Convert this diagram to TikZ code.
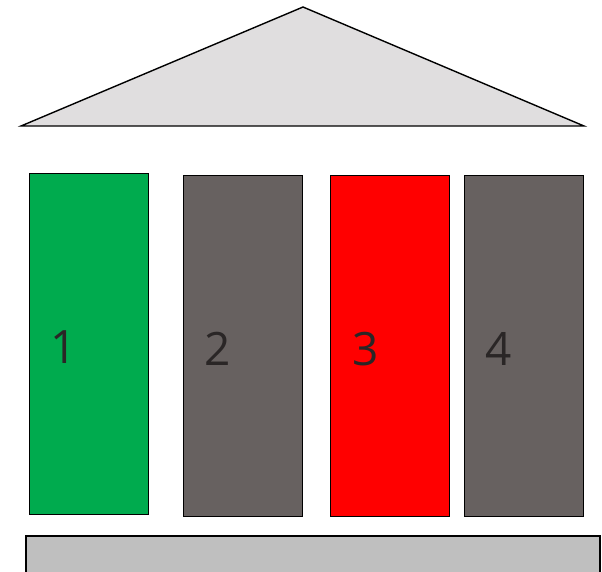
\documentclass[tikz,border=0pt]{standalone}
\usepackage{fontspec}
\setsansfont{Open Sans}
\usepackage{xcolor}
\definecolor{pillargreen}{HTML}{00AB4E}
\definecolor{pillargray}{HTML}{676160}
\definecolor{pillarred}{HTML}{FF0000}
\definecolor{roofgray}{HTML}{E0DEDF}
\definecolor{basegray}{HTML}{BFBFBF}
\definecolor{numdark}{HTML}{2A2626}

\begin{document}
\begin{tikzpicture}[x=1pt,y=-1pt,line join=miter,
  pillar/.style={draw=black,line width=1.4pt,anchor=north west,inner sep=0pt,minimum width=119pt,minimum height=341pt},
  num/.style={font=\sffamily\fontsize{46}{46}\selectfont,text=numdark,inner sep=0pt}]
\useasboundingbox (0,0) rectangle (602,571);
\clip (0,0) rectangle (602,571);
\filldraw[fill=roofgray,draw=black,line width=1.4pt] (21,126) -- (303,7) -- (584,126) -- cycle;
\node[pillar,fill=pillargreen] (c1) at (29,173) {};
\node[pillar,fill=pillargray] (c2) at (183,175) {};
\node[pillar,fill=pillarred] (c3) at (330,175) {};
\node[pillar,fill=pillargray] (c4) at (464,175) {};
\node[num] (n1) at ([xshift=35pt,yshift=-3pt]c1.west) {1};
\node[num] (n2) at ([xshift=35pt,yshift=-3pt]c2.west) {2};
\node[num] (n3) at ([xshift=36pt,yshift=-3pt]c3.west) {3};
\node[num] (n4) at ([xshift=35pt,yshift=-3pt]c4.west) {4};
\filldraw[fill=basegray,draw=black,line width=1.6pt] (26,536) rectangle (600,590);
\end{tikzpicture}
\end{document}
